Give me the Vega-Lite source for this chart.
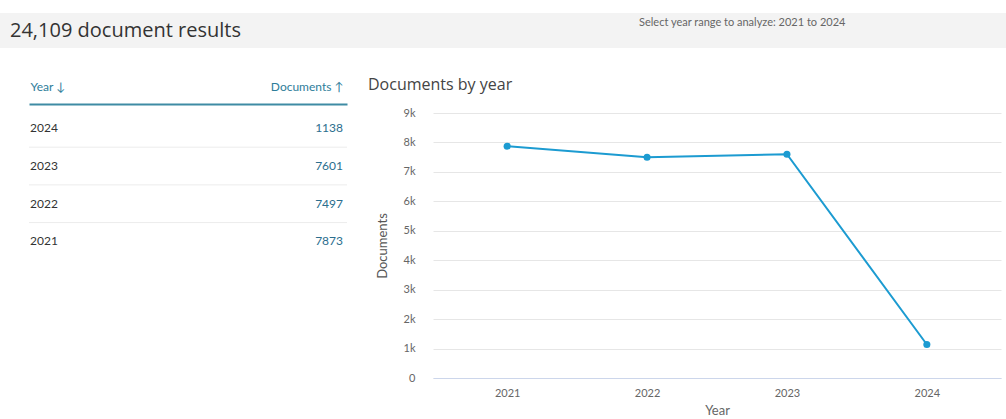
{
  "$schema": "https://vega.github.io/schema/vega-lite/v6.json",
  "padding": {"top": 13, "left": 0, "right": 0, "bottom": 0},
  "background": "white",
  "config": {"view": {"stroke": null}, "font": "Lato"},
  "datasets": {
    "docs": [
      {"Year": "2021", "Documents": 7873},
      {"Year": "2022", "Documents": 7497},
      {"Year": "2023", "Documents": 7601},
      {"Year": "2024", "Documents": 1138}
    ],
    "header": [
      {"part": "title", "label": "24,109 document results"},
      {"part": "controls", "label": "Select year range to analyze:  2021              to   2024"}
    ]
  },
  "spacing": 29,
  "vconcat": [
    {
      "width": 1006,
      "height": 35,
      "view": {"fill": "#f3f3f3", "stroke": null},
      "data": {"name": "header"},
      "encoding": {
        "x": {"field": "part", "type": "nominal", "scale": {"type": "point", "domain": ["title", "controls"], "range": [10, 639], "padding": 0}, "axis": null},
        "text": {"field": "label", "type": "nominal"}
      },
      "layer": [
        {"transform": [{"filter": "datum.part == 'title'"}], "mark": {"type": "text", "align": "left", "baseline": "alphabetic", "dy": 6.5, "font": "Open Sans", "fontSize": 20, "color": "#333333"}},
        {"transform": [{"filter": "datum.part == 'controls'"}], "mark": {"type": "text", "align": "left", "baseline": "alphabetic", "dy": -5, "font": "Lato", "fontSize": 11, "color": "#666666"}}
      ]
    },
    {
      "spacing": 86,
      "bounds": "flush",
      "hconcat": [
        {
          "width": 347,
          "height": 151,
          "data": {"name": "docs"},
          "layer": [
            {
              "transform": [{"filter": "datum.Year != '2021'"}],
              "mark": {"type": "rule", "color": "#ececec", "strokeWidth": 1},
              "encoding": {
                "y": {"field": "Year", "type": "ordinal", "bandPosition": 1, "sort": "descending", "scale": {"type": "band", "range": [-3.5, 147.3], "paddingInner": 0, "paddingOuter": 0}, "axis": null},
                "x": {"datum": "Year", "type": "ordinal", "scale": {"type": "point", "domain": ["Year", "Documents"], "range": [29, 347], "padding": 0},
                  "axis": {"orient": "top", "title": null, "labelAngle": 0, "labelBaseline": "bottom", "labelExpr": "datum.value == 'Year' ? 'Year ↓' : 'Documents ↑'", "labelAlign": {"condition": {"test": "datum.value == 'Year'", "value": "left"}, "value": "right"}, "labelOffset": {"condition": {"test": "datum.value == 'Year'", "value": 1}, "value": -4}, "ticks": false, "grid": false, "domainColor": "#3f8ba4", "domainWidth": 2, "offset": 9, "labelPadding": 11, "labelColor": "#2e7d9a", "labelFontSize": 12, "labelFont": "Lato"}},
                "x2": {"datum": "Documents"}
              }
            },
            {
              "mark": {"type": "text", "align": "left", "dx": 1, "fontSize": 12, "color": "#333333", "font": "Lato"},
              "encoding": {
                "y": {"field": "Year", "type": "ordinal", "sort": "descending"},
                "x": {"datum": "Year", "type": "ordinal"},
                "text": {"field": "Year", "type": "nominal"}
              }
            },
            {
              "mark": {"type": "text", "align": "right", "dx": -4, "fontSize": 12, "color": "#2b6e8e", "font": "Lato"},
              "encoding": {
                "y": {"field": "Year", "type": "ordinal", "sort": "descending"},
                "x": {"datum": "Documents", "type": "ordinal"},
                "text": {"field": "Documents", "type": "nominal"}
              }
            }
          ]
        },
        {
          "width": 568,
          "height": 265,
          "data": {"name": "docs"},
          "title": {"text": "Documents by year", "anchor": "start", "frame": "group", "dx": -65, "offset": 14, "fontSize": 16, "fontWeight": "normal", "color": "#444444", "font": "Open Sans"},
          "encoding": {
            "x": {"field": "Year", "type": "ordinal", "scale": {"type": "point", "padding": 0.53},
              "axis": {"labelAngle": 0, "title": "Year", "ticks": false, "domainColor": "#ccd6eb", "labelPadding": 9, "titlePadding": 6, "labelColor": "#666666", "labelFontSize": 11, "titleColor": "#666666", "titleFontSize": 13, "titleFontWeight": "normal", "grid": false}},
            "y": {"field": "Documents", "type": "quantitative", "scale": {"domain": [0, 9000], "nice": false},
              "axis": {"values": [0, 1000, 2000, 3000, 4000, 5000, 6000, 7000, 8000, 9000], "labelExpr": "datum.value == 0 ? '0' : (datum.value / 1000) + 'k'", "domain": false, "ticks": false, "gridColor": "#e6e6e6", "labelPadding": 18, "labelColor": "#666666", "labelFontSize": 11, "title": "Documents", "titlePadding": 14, "titleColor": "#555555", "titleFontWeight": "normal", "titleFontSize": 13}}
          },
          "layer": [
            {"mark": {"type": "line", "color": "#1c9bd1", "strokeWidth": 2}},
            {"mark": {"type": "point", "filled": true, "color": "#1c9bd1", "size": 50, "opacity": 1}}
          ]
        }
      ]
    }
  ]
}
